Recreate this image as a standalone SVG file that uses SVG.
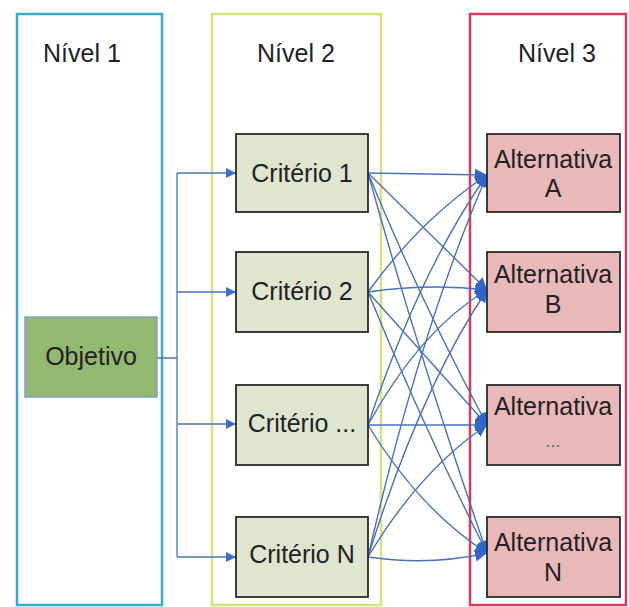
<svg xmlns="http://www.w3.org/2000/svg" width="629" height="607" viewBox="0 0 629 607">
<defs>
<style>
text{font-family:"Liberation Sans",Arial,sans-serif;font-size:25px;fill:#222}
.lvl{fill:#fff;stroke-width:2.5}
.crit{fill:#dfe5cf;stroke:#2b2b2b;stroke-width:1.8}
.alt{fill:#e9b9b9;stroke:#2b2b2b;stroke-width:1.8}
.con{fill:none;stroke:#4a72b8;stroke-width:1.3}
.con2{fill:none;stroke:#4a72b8;stroke-width:1.4}
</style>
<marker id="ah" viewBox="0 0 10 10" refX="10" refY="5" markerWidth="10" markerHeight="10" markerUnits="userSpaceOnUse" orient="auto">
<path d="M0,0 L10,5 L0,10 z" fill="#3f6fc0"/>
</marker>
<marker id="ah2" viewBox="0 0 10 10" refX="10" refY="5" markerWidth="12" markerHeight="12" markerUnits="userSpaceOnUse" orient="auto">
<path d="M0,0 L10,5 L0,10 z" fill="#2f66c8"/>
</marker>
</defs>
<rect width="629" height="607" fill="#fff"/>
<g id="nivel1">
<rect class="lvl" x="17" y="14" width="145" height="591" stroke="#3ba9c8"/>
<text x="43" y="62">Nível 1</text>
</g>
<g id="nivel2">
<rect class="lvl" x="212" y="14" width="169" height="591" stroke="#d5e27a"/>
<text x="257" y="62">Nível 2</text>
</g>
<g id="nivel3">
<rect class="lvl" x="470" y="14" width="156" height="591" stroke="#d43c5e"/>
<text x="518" y="62">Nível 3</text>
</g>
<g id="connectors">
<path class="con" d="M157,358 H177 M177,173 V557"/>
<path class="con" d="M177,173 H236" marker-end="url(#ah)"/>
<path class="con" d="M177,292 H236" marker-end="url(#ah)"/>
<path class="con" d="M177,424 H236" marker-end="url(#ah)"/>
<path class="con" d="M177,557 H236" marker-end="url(#ah)"/>
<g marker-end="url(#ah2)">
<path class="con2" d="M368,173 L487,175"/>
<path class="con2" d="M368,173 L487,290"/>
<path class="con2" d="M368,173 Q420,300 487,425"/>
<path class="con2" d="M368,173 Q420,360 487,553"/>
<path class="con2" d="M368,292 Q420,220 487,175"/>
<path class="con2" d="M368,292 Q430,283 487,290"/>
<path class="con2" d="M368,292 Q420,350 487,425"/>
<path class="con2" d="M368,292 Q420,420 487,553"/>
<path class="con2" d="M368,425 Q420,270 487,175"/>
<path class="con2" d="M368,425 Q420,330 487,290"/>
<path class="con2" d="M368,425 L487,425"/>
<path class="con2" d="M368,425 Q420,510 487,553"/>
<path class="con2" d="M368,557 Q420,330 487,175"/>
<path class="con2" d="M368,557 Q420,390 487,290"/>
<path class="con2" d="M368,557 Q420,470 487,425"/>
<path class="con2" d="M368,557 Q430,566 487,553"/>
</g>
</g>
<g id="objetivo">
<rect x="25" y="317" width="132" height="80" fill="#93b86f" stroke="#7f9fc2" stroke-width="1.5"/>
<text x="91" y="365" text-anchor="middle">Objetivo</text>
</g>
<g id="criterio1">
<rect class="crit" x="236" y="134" width="132" height="78"/>
<text x="302" y="182" text-anchor="middle">Critério 1</text>
</g>
<g id="criterio2">
<rect class="crit" x="236" y="252" width="132" height="80"/>
<text x="302" y="300" text-anchor="middle">Critério 2</text>
</g>
<g id="criterio3">
<rect class="crit" x="236" y="385" width="132" height="80"/>
<text x="302" y="432" text-anchor="middle">Critério ...</text>
</g>
<g id="criterioN">
<rect class="crit" x="236" y="517" width="132" height="80"/>
<text x="302" y="563" text-anchor="middle">Critério N</text>
</g>
<g id="altA">
<rect class="alt" x="487" y="134" width="133" height="78"/>
<text x="553" y="168" text-anchor="middle">Alternativa</text>
<text x="553" y="197" text-anchor="middle">A</text>
</g>
<g id="altB">
<rect class="alt" x="487" y="252" width="133" height="80"/>
<text x="553" y="283" text-anchor="middle">Alternativa</text>
<text x="553" y="313" text-anchor="middle">B</text>
</g>
<g id="alt3">
<rect class="alt" x="487" y="385" width="133" height="80"/>
<text x="553" y="415" text-anchor="middle">Alternativa</text>
<text x="553" y="447" text-anchor="middle" style="font-size:18px;fill:#666">...</text>
</g>
<g id="altN">
<rect class="alt" x="487" y="517" width="133" height="80"/>
<text x="553" y="551" text-anchor="middle">Alternativa</text>
<text x="553" y="581" text-anchor="middle">N</text>
</g>
</svg>
